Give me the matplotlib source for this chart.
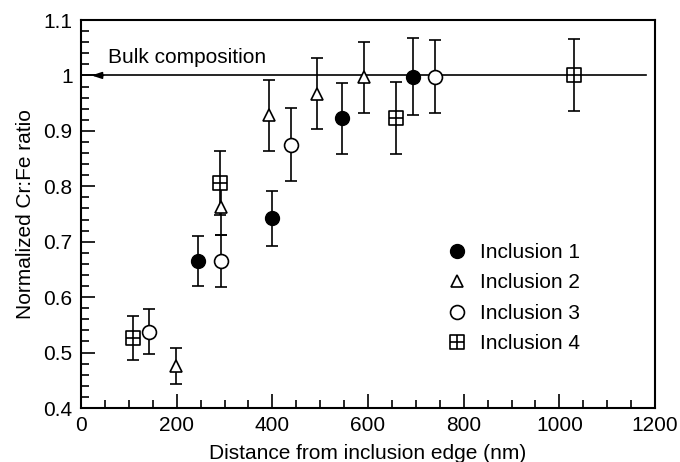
import matplotlib
matplotlib.use("Agg")
import matplotlib.pyplot as plt
from matplotlib.lines import Line2D
from matplotlib.path import Path
from matplotlib.ticker import MultipleLocator

plt.rcParams["font.family"] = ["Liberation Sans", "DejaVu Sans"]

# data
inc1_x = [245, 400, 546, 695]
inc1_y = [0.665, 0.742, 0.923, 0.998]
inc1_err = [0.045, 0.050, 0.064, 0.069]

inc2_x = [199, 292, 393, 493, 592]
inc2_y = [0.476, 0.762, 0.928, 0.967, 0.997]
inc2_err = [0.032, 0.050, 0.064, 0.064, 0.064]

inc3_x = [143, 293, 440, 740]
inc3_y = [0.538, 0.666, 0.875, 0.998]
inc3_err = [0.040, 0.047, 0.066, 0.066]

inc4_x = [109, 291, 659, 1031]
inc4_y = [0.526, 0.806, 0.924, 1.000]
inc4_err = [0.040, 0.057, 0.065, 0.065]

bulk_value = 1.0
bulk_x = [0, 1182]
bulk_arrow_tip = 22

xticks = [0, 200, 400, 600, 800, 1000, 1200]
yticks = [0.4, 0.5, 0.6, 0.7, 0.8, 0.9, 1.0, 1.1]
ytick_labels = ["0.4", "0.5", "0.6", "0.7", "0.8", "0.9", "1", "1.1"]

# square with a cross inside
box_plus = Path(
    [(-1, -1), (1, -1), (1, 1), (-1, 1), (-1, -1), (0, -1), (0, 1), (-1, 0), (1, 0)],
    [Path.MOVETO, Path.LINETO, Path.LINETO, Path.LINETO, Path.CLOSEPOLY,
     Path.MOVETO, Path.LINETO, Path.MOVETO, Path.LINETO],
)

FS = 15
fig = plt.figure(figsize=(6.8, 4.62), dpi=100)
ax = fig.add_axes([81 / 680, 1 - 408 / 462, (655 - 81) / 680, (408 - 20) / 462])

ax.plot(bulk_x, [bulk_value, bulk_value], color="black", lw=1.2, zorder=1)
ax.annotate("", xy=(bulk_arrow_tip, bulk_value), xytext=(bulk_arrow_tip + 25, bulk_value),
            arrowprops=dict(arrowstyle="-|>,head_length=0.6,head_width=0.2", color="black",
                            lw=1.2, shrinkA=0, shrinkB=0))
ax.text(56, 1.032, "Bulk composition", fontsize=FS, va="center", ha="left")

eb = dict(ecolor="black", elinewidth=1.2, capsize=4, capthick=1.2, linestyle="none", zorder=3)
ax.errorbar(inc1_x, inc1_y, yerr=inc1_err, marker="o", ms=10, mfc="black", mec="black", **eb)
ax.errorbar(inc2_x, inc2_y, yerr=inc2_err, marker="^", ms=8.5, mfc="white", mec="black", mew=1.2, **eb)
ax.errorbar(inc3_x, inc3_y, yerr=inc3_err, marker="o", ms=10, mfc="white", mec="black", mew=1.2, **eb)
ax.errorbar(inc4_x, inc4_y, yerr=inc4_err, marker=box_plus, ms=9.5, mfc="white", mec="black", mew=1.2, **eb)

handles = [
    Line2D([], [], ls="none", marker="o", ms=10, mfc="black", mec="black"),
    Line2D([], [], ls="none", marker="^", ms=8.5, mfc="white", mec="black", mew=1.2),
    Line2D([], [], ls="none", marker="o", ms=10, mfc="white", mec="black", mew=1.2),
    Line2D([], [], ls="none", marker=box_plus, ms=9.5, mfc="none", mec="black", mew=1.2),
]
labels = ["Inclusion 1", "Inclusion 2", "Inclusion 3", "Inclusion 4"]
ax.legend(handles, labels, loc="upper left", bbox_to_anchor=(447 / 680, 1 - 243 / 462),
          bbox_transform=fig.transFigure, frameon=False, fontsize=FS, handlelength=1.0,
          handletextpad=0.6, labelspacing=0.55, borderpad=0, borderaxespad=0)

ax.set_xlim(0, 1200)
ax.set_ylim(0.4, 1.1)
ax.set_xticks(xticks)
ax.set_yticks(yticks)
ax.set_yticklabels(ytick_labels)
ax.xaxis.set_minor_locator(MultipleLocator(50))
ax.yaxis.set_minor_locator(MultipleLocator(0.02))
ax.tick_params(which="both", direction="in", top=False, right=False, labelsize=FS, width=1.2)
ax.tick_params(which="major", length=10, pad=6)
ax.tick_params(which="minor", length=5.5)
for s in ax.spines.values():
    s.set_linewidth(1.5)

ax.set_xlabel("Distance from inclusion edge (nm)", fontsize=FS, labelpad=6)
ax.set_ylabel("Normalized Cr:Fe ratio", fontsize=FS, labelpad=6)

fig.savefig("out.png", dpi=100)
